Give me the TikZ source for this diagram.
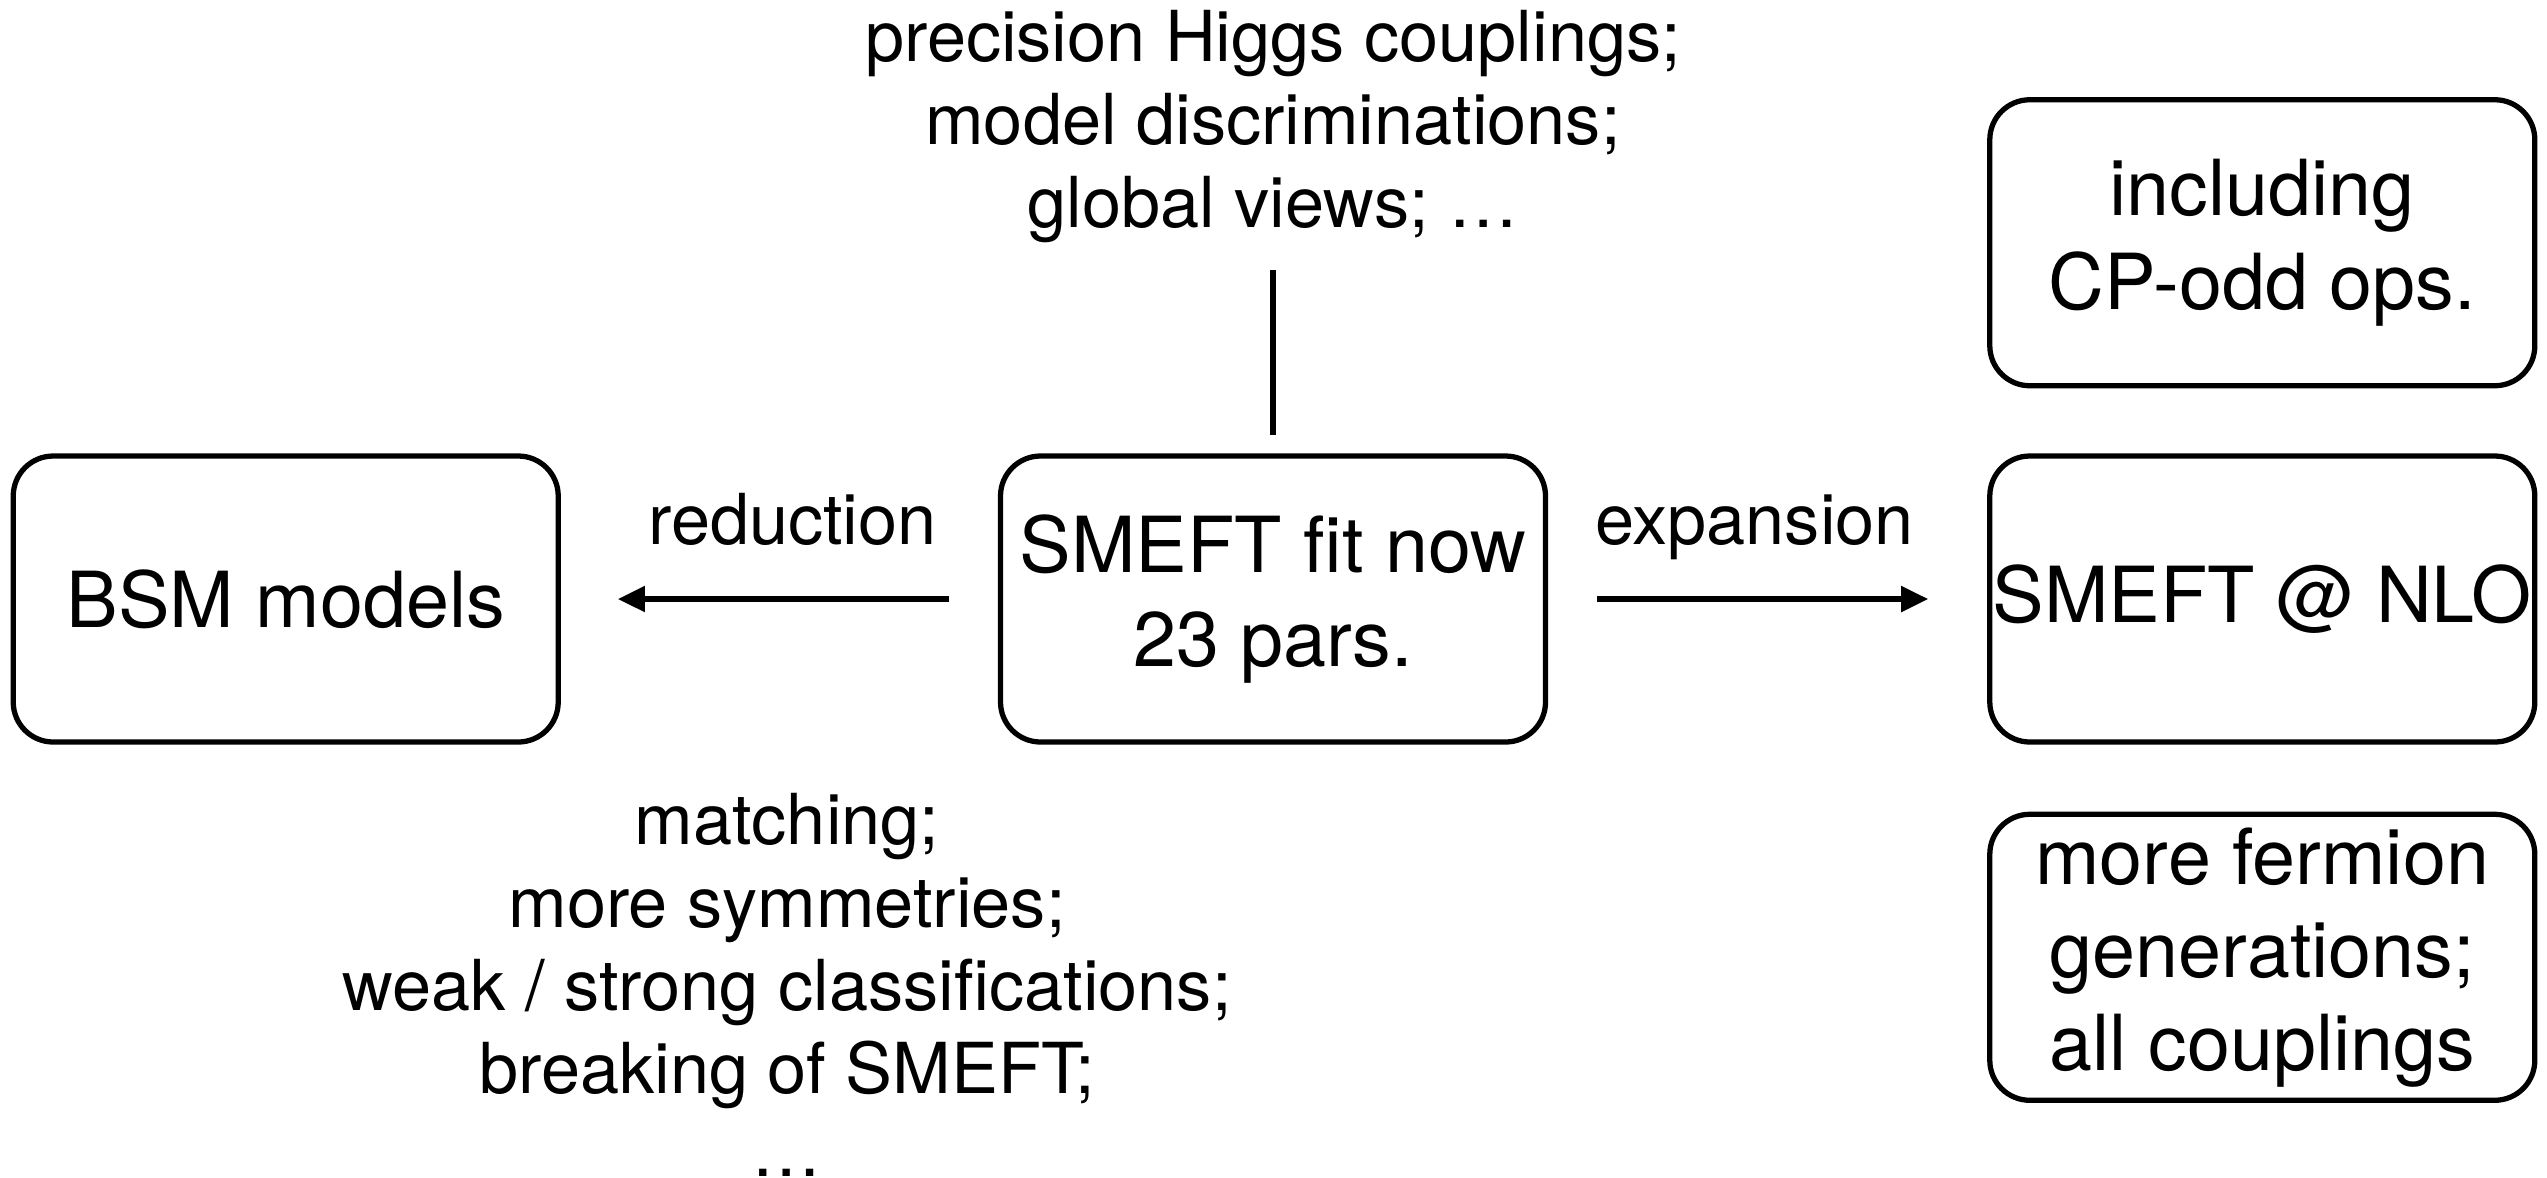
\documentclass[tikz,border=0pt]{standalone}
\usepackage{fontspec}
\setmainfont{TeX Gyre Heros}
\usepackage{tikz}
\usetikzlibrary{positioning}
\usetikzlibrary{arrows.meta}

\begin{document}
\begin{tikzpicture}[
                box/.style = {
                    draw,
                    rounded corners = 0.4cm,
                    line width = 1.5pt,
                    minimum width = 5.45cm,
                    minimum height = 2.86cm,
                    inner sep = 0pt,
                    align = center,
                    font = \fontsize{22}{26.5}\selectfont
                },
                note/.style = {
                    align = center,
                    inner sep = 0pt,
                    font = \fontsize{20}{23.6}\selectfont
                },
                conn/.style = {line width = 1.5pt},
                arr/.style = {conn, -{Triangle[length=0.27cm, width=0.25cm]}},
                lbl/.style = {pos=0.47, anchor=base, yshift=0.55cm, font=\fontsize{20}{23.6}\selectfont},
                node distance = {4.38cm}
            ]
            \useasboundingbox (0,0) rectangle (25.47,-11.77);
            % 
            \node[box] (fit) at (12.73,-5.99) {SMEFT fit now\\23 pars.};
            \node[box, left=4.37cm of fit] (bsm) {BSM models};
            \node[box, right=4.39cm of fit] (nlo) {SMEFT @ NLO};
            % 
            \node[box, above=0.65cm of nlo] (cpodd) {including\\CP-odd ops.};
            \node[box, below=0.67cm of nlo] (ferm) {more fermion\\generations;\\all couplings};
            % 
            \node[note, above=2.10cm of fit] (prec) {precision Higgs couplings;\\model discriminations;\\global views; \dots};
            \node[note, anchor=north] (match) at (7.87,-7.93) {matching;\\more symmetries;\\weak / strong classifications;\\breaking of SMEFT;\\\dots};
            % 
            \draw[arr, shorten <=0.49cm, shorten >=0.57cm] (fit) -- node[lbl]{reduction} (bsm);
            \draw[arr, shorten <=0.49cm, shorten >=0.59cm] (fit) -- node[lbl]{expansion} (nlo);
            \draw[conn, shorten <=0.18cm, shorten >=0.27cm] (fit) -- (prec);
            % 
        \end{tikzpicture}
\end{document}
